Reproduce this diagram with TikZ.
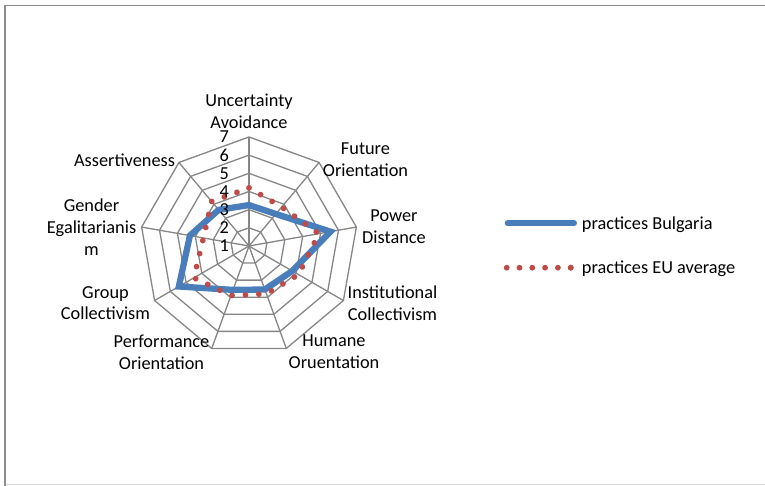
\documentclass[tikz,border=0pt]{standalone}
\usepackage{fontspec}
\setmainfont{Carlito}
\usetikzlibrary{decorations.markings}
\definecolor{gridc}{RGB}{134,134,134}
\definecolor{framec}{RGB}{140,140,140}
\definecolor{framelight}{RGB}{217,217,217}
\definecolor{bgblue}{RGB}{74,126,187}
\definecolor{eured}{RGB}{190,75,72}
\tikzset{
  gridline/.style={draw=gridc,line width=1.3pt},
  bgseries/.style={draw=bgblue,line width=6.3pt,line join=miter},
  dotted series/.style={decorate,decoration={markings,
      mark=between positions 0 and 0.999 step #1 with {\fill[eured] (0,0) circle (2.9pt);}}},
  axlabel/.style={align=center,inner sep=0pt,font=\fontsize{18.3}{21.7}\selectfont},
  ticklabel/.style={anchor=east,inner sep=0pt,font=\fontsize{18.3}{21.7}\selectfont},
  leglabel/.style={anchor=base west,inner sep=0pt,font=\fontsize{18.3}{21.7}\selectfont}
}
\begin{document}
\begin{tikzpicture}[x=1pt,y=1pt]
\useasboundingbox (0,0) rectangle (765,486);
% frame
\draw[framelight,line width=1pt] (5,1.5) -- (765,1.5);
\draw[framec,line width=1.3pt] (5,0) -- (5,480.5) -- (765,480.5);
% radar
\begin{scope}[shift={(249,240)}]
  \coordinate (c) at (0,0);
  \foreach \k in {1,...,6}{
    \pgfmathsetmacro{\r}{\k*18.17}
    \draw[gridline] (90:\r) \foreach \a in {50,10,-30,-70,-110,-150,-190,-230}{ -- (\a:\r)} -- cycle;
  }
  \foreach \a in {90,50,10,-30,-70,-110,-150,-190,-230}{
    \draw[gridline] (c) -- (\a:109);
  }
  % Bulgaria
  \coordinate (b1) at (90:40.9);
  \coordinate (b2) at (50:41.8);
  \coordinate (b3) at (10:82.7);
  \coordinate (b4) at (-30:50.0);
  \coordinate (b5) at (-70:46.3);
  \coordinate (b6) at (-110:46.7);
  \coordinate (b7) at (-150:81.0);
  \coordinate (b8) at (170:60.0);
  \coordinate (b9) at (130:47.2);
  \draw[bgseries] (b1) -- (b2) -- (b3) -- (b4) -- (b5) -- (b6) -- (b7) -- (b8) -- (b9) -- cycle;
  % EU average
  \coordinate (e1) at (90:58.1);
  \coordinate (e2) at (50:50.9);
  \coordinate (e3) at (10:70.9);
  \coordinate (e4) at (-30:57.2);
  \coordinate (e5) at (-70:50.9);
  \coordinate (e6) at (-110:52.7);
  \coordinate (e7) at (-150:63.6);
  \coordinate (e8) at (170:46.3);
  \coordinate (e9) at (130:58.1);
  \path[dotted series=13.4pt] (e1) -- (e2) -- (e3) -- (e4) -- (e5) -- (e6) -- (e7) -- (e8) -- (e9) -- cycle;
\end{scope}
% tick labels
\foreach \k [count=\i from 0] in {1,...,7}{
  \node[ticklabel] (t\k) at (229,{240+\i*18.17}) {\k};
}
% axis labels
\node[axlabel] (ua) at (249,375) {Uncertainty\\Avoidance};
\node[axlabel] (fo) at (365.5,326) {Future\\Orientation};
\node[axlabel] (pd) at (394,259) {Power\\Distance};
\node[axlabel] (ic) at (392.5,183) {Institutional\\Collectivism};
\node[axlabel] (ho) at (334,134.5) {Humane\\Oruentation};
\node[axlabel] (po) at (161.5,134) {Performance\\Orientation};
\node[axlabel] (gc) at (105.5,183) {Group\\Collectivism};
\node[axlabel] (ge) at (91.5,259) {Gender\\Egalitarianis\\m};
\node[axlabel] (as) at (124.5,326) {Assertiveness};
% legend
\coordinate (lb1) at (507.5,262.7);
\coordinate (lb2) at (574.2,262.7);
\draw[draw=bgblue,line width=5.6pt,line cap=round] (lb1) -- (lb2);
\node[leglabel] (lbt) at (581.7,256.7) {practices Bulgaria};
\coordinate (le1) at (506.7,218.3);
\coordinate (le2) at (570.8,218.3);
\path[dotted series=12.8pt] (le1) -- (le2);
\fill[eured] (le2) circle (2.9pt);
\node[leglabel] (let) at (581.7,212) {practices EU average};
\end{tikzpicture}
\end{document}
